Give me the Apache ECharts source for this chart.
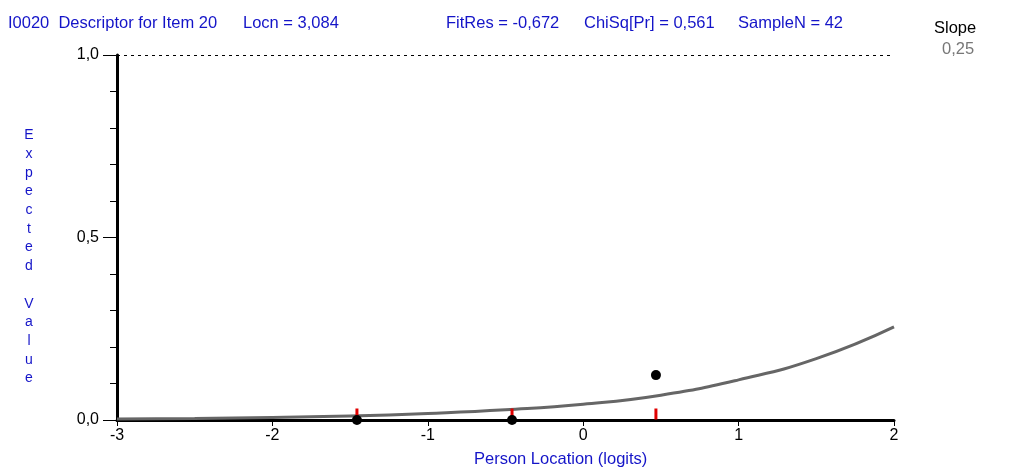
<!DOCTYPE html>
<html>
<head>
<meta charset="utf-8">
<script src="https://cdn.jsdelivr.net/npm/echarts@6/dist/echarts.min.js"></script>
<style>
  html, body { margin: 0; padding: 0; background: #fff; }
  #chart { width: 1010px; height: 475px; }
</style>
</head>
<body>
<div id="chart"></div>
<script>
// expected value curve
var curveX = [-3, -2.5, -2, -1.5, -1, -0.5, 0, 0.5, 1, 1.5, 2];
var curveY = [0.003, 0.004, 0.007, 0.011, 0.018, 0.028, 0.043, 0.068, 0.11, 0.168, 0.255];
// observed class interval means
var obsX = [-1.456, -0.458, 0.468];
var obsY = [0, 0, 0.123];
var xTicks = [-3, -2, -1, 0, 1, 2];
var yLabels = ['0,0', '0,5', '1,0'];

var blue = '#1414c8';
var font = 'Liberation Sans';
var big = '16.5px ' + font;

var myChart = echarts.init(document.getElementById('chart'));

var curveData = curveX.map(function (x, i) { return [x, curveY[i]]; });
var obsData = obsX.map(function (x, i) { return [x, obsY[i]]; });
var redData = obsX.map(function (x) { return [x, 0]; });

var option = {
    animation: false,
    backgroundColor: '#fff',
    textStyle: { fontFamily: font },
    grid: { left: 117, right: 116, top: 55, bottom: 55 },
    xAxis: {
        type: 'value',
        min: xTicks[0],
        max: xTicks[xTicks.length - 1],
        interval: 1,
        splitLine: { show: false },
        axisLine: { onZero: false, lineStyle: { color: '#000', width: 3 } },
        axisTick: { length: 6, lineStyle: { color: '#000', width: 1 } },
        axisLabel: { color: '#000', fontSize: 16, margin: 8 }
    },
    yAxis: {
        type: 'value',
        min: 0,
        max: 1,
        interval: 0.5,
        splitLine: { show: false },
        axisLine: { onZero: false, lineStyle: { color: '#000', width: 3 } },
        axisTick: { length: 14, lineStyle: { color: '#000', width: 1 } },
        minorTick: { show: true, splitNumber: 5, length: 7, lineStyle: { color: '#000', width: 1 } },
        minorSplitLine: { show: false },
        axisLabel: {
            color: '#000', fontSize: 16, margin: 18,
            formatter: function (v) {
                return yLabels[Math.round(v * 2)];
            }
        }
    },
    graphic: [
        { type: 'text', left: 8, top: 15, style: { text: 'I0020  Descriptor for Item 20', fill: blue, font: big } },
        { type: 'text', left: 243, top: 15, style: { text: 'Locn = 3,084', fill: blue, font: big } },
        { type: 'text', left: 446, top: 15, style: { text: 'FitRes = -0,672', fill: blue, font: big } },
        { type: 'text', left: 584, top: 15, style: { text: 'ChiSq[Pr] = 0,561', fill: blue, font: big } },
        { type: 'text', left: 738, top: 15, style: { text: 'SampleN = 42', fill: blue, font: big } },
        { type: 'text', left: 934, top: 20, style: { text: 'Slope', fill: '#000', font: big } },
        { type: 'text', left: 942, top: 41, style: { text: '0,25', fill: '#777', font: big } },
        { type: 'text', left: 474, top: 451, style: { text: 'Person Location (logits)', fill: blue, font: big } },
        { type: 'text', x: 29, y: 126, style: { text: 'Expected Value'.split('').join('\n'), fill: blue, font: '14px ' + font, align: 'center', lineHeight: 18.7 } }
    ],
    series: [
        {
            type: 'line',
            data: curveData,
            symbol: 'none',
            smooth: true,
            lineStyle: { color: '#666', width: 3 },
            markLine: {
                silent: true,
                symbol: 'none',
                label: { show: false },
                lineStyle: { color: '#000', width: 1, type: [3, 4] },
                data: [{ yAxis: 1 }]
            },
            z: 2
        },
        {
            type: 'scatter',
            data: redData,
            symbol: 'rect',
            symbolSize: [3, 11],
            symbolOffset: [0, -6],
            itemStyle: { color: '#e00000', opacity: 1 },
            z: 3
        },
        {
            type: 'scatter',
            data: obsData,
            symbolSize: 10,
            itemStyle: { color: '#000', opacity: 1 },
            z: 4
        }
    ]
};
myChart.setOption(option);
</script>
</body>
</html>
